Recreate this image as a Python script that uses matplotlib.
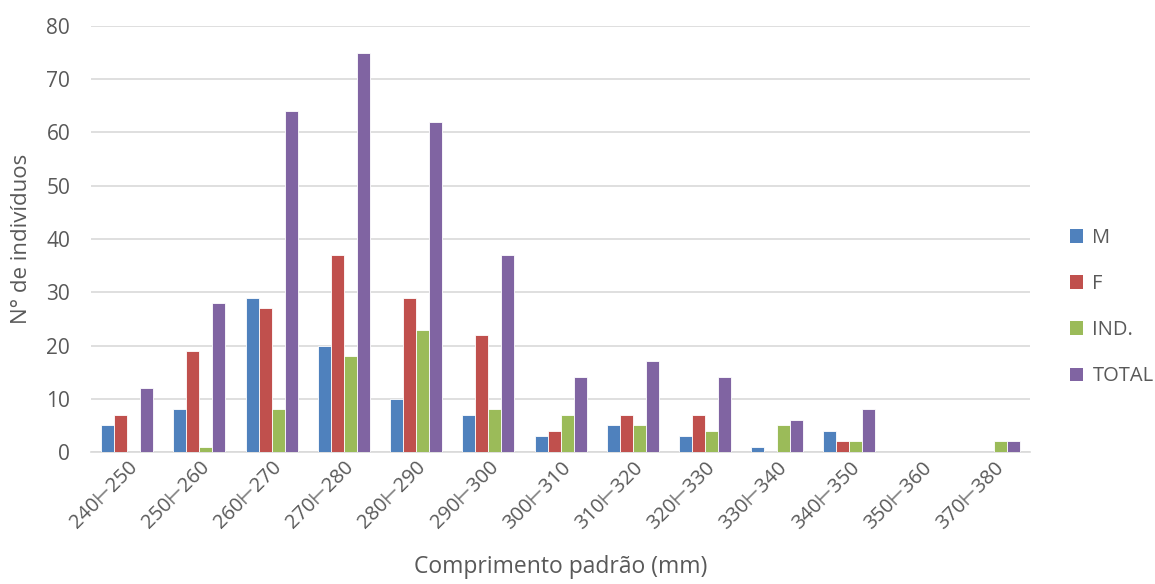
import matplotlib
matplotlib.use("Agg")
import matplotlib.pyplot as plt
import numpy as np
from matplotlib.patches import Patch

plt.rcParams["font.family"] = ["Open Sans", "DejaVu Sans"]

classes = ["240⊢250", "250⊢260", "260⊢270", "270⊢280", "280⊢290", "290⊢300",
           "300⊢310", "310⊢320", "320⊢330", "330⊢340", "340⊢350", "350⊢360",
           "370⊢380"]
machos = [5, 8, 29, 20, 10, 7, 3, 5, 3, 1, 4, 0, 0]
femeas = [7, 19, 27, 37, 29, 22, 4, 7, 7, 0, 2, 0, 0]
indet = [0, 1, 8, 18, 23, 8, 7, 5, 4, 5, 2, 0, 2]
total = [12, 28, 64, 75, 62, 37, 14, 17, 14, 6, 8, 0, 2]

series = [("M", machos, "#4F81BD"), ("F", femeas, "#C0504D"),
          ("IND.", indet, "#9BBB59"), ("TOTAL", total, "#8064A2")]

fig = plt.figure(figsize=(11.55, 5.84), dpi=100)
ax = fig.add_axes([0.0788, 0.226, 0.8130, 0.7295])

x = np.arange(len(classes))
w = 0.18
for i, (name, vals, col) in enumerate(series):
    ax.bar(x + (i - 1.5) * w, vals, w, color=col, edgecolor="white",
           linewidth=0.6, zorder=3, label=name)

ax.set_xlim(-0.5, len(classes) - 0.5)
ax.set_ylim(0, 80)
ax.set_yticks(range(0, 81, 10))
ax.grid(axis="y", color="#d9d9d9", linewidth=1.2, zorder=0)
for s in ("top", "right", "left"):
    ax.spines[s].set_visible(False)
ax.spines["bottom"].set_color("#d9d9d9")
ax.spines["bottom"].set_linewidth(1.2)
ax.tick_params(axis="y", length=0, labelsize=15, colors="#595959", pad=15)
ax.tick_params(axis="x", length=0, labelsize=14.5, colors="#595959", pad=4)
ax.set_xticks(x)
ax.set_xticklabels(classes, rotation=45, ha="right", rotation_mode="anchor")

ax.set_xlabel("Comprimento padrão (mm)", fontsize=16.5, color="#595959", labelpad=16)
ax.set_ylabel("N° de indivíduos", fontsize=16, color="#595959", labelpad=10)

handles = [Patch(facecolor=c, label=n) for n, _, c in series]
fig.legend(handles=handles, loc="center left", bbox_to_anchor=(0.911, 0.474),
           frameon=False, fontsize=14.5, labelcolor="#595959",
           handlelength=0.65, handleheight=0.65, handletextpad=0.45,
           labelspacing=1.3)

fig.savefig("out.png", dpi=100, facecolor="white")
